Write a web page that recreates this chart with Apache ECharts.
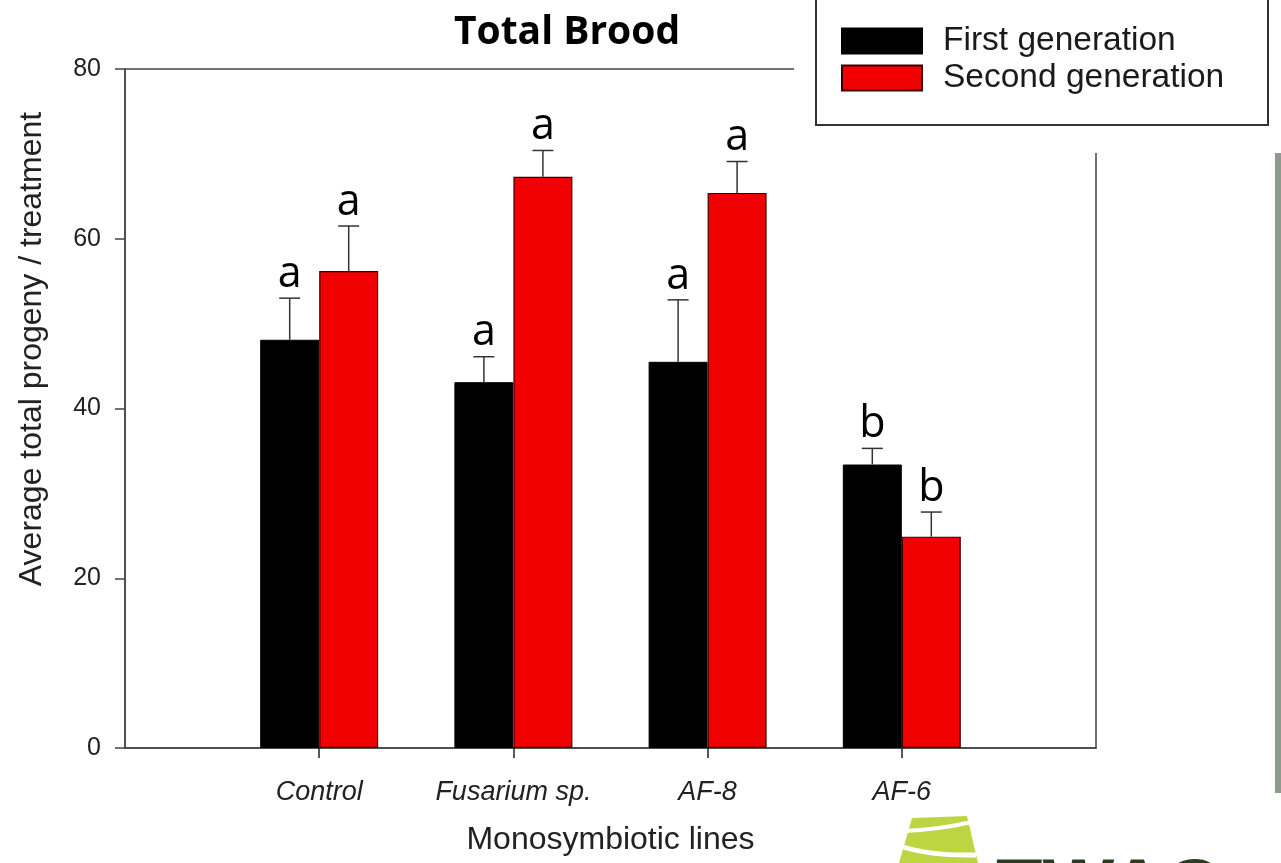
<!DOCTYPE html>
<html>
<head>
<meta charset="utf-8">
<script src="https://cdn.jsdelivr.net/npm/echarts@6/dist/echarts.min.js"></script>
<style>html,body{margin:0;padding:0;background:#fff;}#c{width:1281px;height:863px;}</style>
</head>
<body>
<div id="c"></div>
<script>
// ---- data ----
const categories = ['', 'Control', 'Fusarium sp.', 'AF-8', 'AF-6', ''];
const groupIndex = [1, 2, 3, 4];
const firstGen = [48.1, 43.1, 45.5, 33.4];
const firstErr = [4.9, 3.0, 7.3, 1.9];
const secondGen = [56.2, 67.3, 65.4, 24.9];
const secondErr = [5.3, 3.1, 3.7, 2.9];
const firstLetters = ['a', 'a', 'a', 'b'];
const secondLetters = ['a', 'a', 'a', 'b'];
const yTicks = [0, 20, 40, 60, 80];

const BAR_W = 59;
const FONT = '"Liberation Sans", Arial, sans-serif';

function errSeries(means, errs, letters, side) {
  return {
    type: 'custom',
    xAxisIndex: 0,
    yAxisIndex: 0,
    z: 5,
    silent: true,
    renderItem: function (params, api) {
      const i = api.value(0), m = api.value(1), e = api.value(2);
      const base = api.coord([i, m]);
      const top = api.coord([i, m + e]);
      const x = base[0] + side * BAR_W / 2;
      const ls = { stroke: '#333', lineWidth: 1.5 };
      return {
        type: 'group',
        children: [
          { type: 'line', shape: { x1: x, y1: base[1], x2: x, y2: top[1] }, style: ls },
          { type: 'line', shape: { x1: x - 10.5, y1: top[1], x2: x + 10.5, y2: top[1] }, style: ls },
          { type: 'text', style: { text: letters[params.dataIndex], x: x, y: top[1] - 2,
              align: 'center', verticalAlign: 'bottom', font: '43px "Open Sans", sans-serif', fill: '#000' } }
        ]
      };
    },
    data: means.map((m, k) => [groupIndex[k], m, errs[k]])
  };
}

const chart = echarts.init(document.getElementById('c'), null, { renderer: 'canvas' });
chart.setOption({
  animation: false,
  backgroundColor: '#fff',
  title: {
    text: 'Total Brood', left: 562, top: 8, textAlign: 'center',
    textStyle: { fontFamily: '"Open Sans", sans-serif', fontWeight: 'bold', fontSize: 39, color: '#000' }
  },
  legend: {
    data: ['First generation', 'Second generation'],
    orient: 'vertical', left: 841, top: 24, z: 60,
    itemWidth: 80, itemHeight: 25, itemGap: 3, padding: 0,
    icon: 'rect',
    selectedMode: false,
    textStyle: { fontFamily: FONT, fontSize: 33.5, color: '#1a1a1a', padding: [0, 0, 0, 16] }
  },
  grid: { left: 125, right: 185, top: 69, bottom: 115, show: true, borderColor: '#444', borderWidth: 1.5, containLabel: false },
  xAxis: {
    type: 'category', data: categories, boundaryGap: false,
    name: 'Monosymbiotic lines', nameLocation: 'middle', nameGap: 76,
    nameTextStyle: { fontFamily: FONT, fontSize: 32, color: '#222' },
    axisLine: { show: true, lineStyle: { color: '#444', width: 1.5 } },
    axisTick: { show: true, length: 10, inside: false, lineStyle: { color: '#222', width: 1.5 },
      interval: function (idx) { return idx >= 1 && idx <= 4; } },
    axisLabel: { interval: 0, margin: 31, fontFamily: FONT, fontStyle: 'italic', fontSize: 27, color: '#222' },
    splitLine: { show: false }
  },
  yAxis: {
    type: 'value', min: yTicks[0], max: yTicks[yTicks.length - 1], interval: 20,
    axisLine: { show: true, lineStyle: { color: '#444', width: 1.5 } },
    axisTick: { show: true, length: 10, lineStyle: { color: '#444', width: 1.5 } },
    axisLabel: { margin: 24, fontFamily: FONT, fontSize: 25, color: '#222' },
    splitLine: { show: false }
  },
  series: [
    { name: 'First generation', type: 'bar', barWidth: BAR_W, barGap: '0%', z: 3,
      itemStyle: { color: '#000', borderColor: '#000', borderWidth: 1 },
      data: firstGen.map((v, k) => [groupIndex[k], v]) },
    { name: 'Second generation', type: 'bar', barWidth: BAR_W, barGap: '0%', z: 3,
      itemStyle: { color: '#f00000', borderColor: '#3a0000', borderWidth: 1.2 },
      data: secondGen.map((v, k) => [groupIndex[k], v]) },
    errSeries(firstGen, firstErr, firstLetters, -1),
    errSeries(secondGen, secondErr, secondLetters, 1)
  ],
  graphic: [
    { type: 'rect', z: 50, shape: { x: 794, y: 0, width: 487, height: 153 }, style: { fill: '#fff' } },
    { type: 'rect', z: 51, shape: { x: 816, y: -10, width: 452, height: 135 }, style: { fill: '#fff', stroke: '#333', lineWidth: 2 } },
    { type: 'rect', z: 51, shape: { x: 1275, y: 153, width: 6, height: 640 }, style: { fill: '#8d9b8d' } },
    { type: 'text', z: 51, rotation: Math.PI / 2, x: 32, y: 349,
      style: { text: 'Average total progeny / treatment', align: 'center', verticalAlign: 'middle',
        font: '32px "Liberation Sans", Arial, sans-serif', fill: '#222' } },
    // logo fragment
    { type: 'polygon', z: 51, shape: { points: [[912, 818], [967, 816], [978, 863], [899, 863]] }, style: { fill: '#bcd540' } },
    { type: 'bezierCurve', z: 52, shape: { x1: 905, y1: 831, x2: 972, y2: 822, cpx1: 935, cpy1: 830 }, style: { stroke: '#fff', lineWidth: 4, fill: null } },
    { type: 'bezierCurve', z: 52, shape: { x1: 900, y1: 846, x2: 976, y2: 855, cpx1: 930, cpy1: 856 }, style: { stroke: '#fff', lineWidth: 5, fill: null } },
    { type: 'text', z: 51, x: 996, y: 853,
      style: { text: 'TWAG', font: 'bold 76px "Liberation Sans", Arial, sans-serif', fill: '#2b3a22', align: 'left', verticalAlign: 'top' } }
  ]
});
</script>
</body>
</html>
